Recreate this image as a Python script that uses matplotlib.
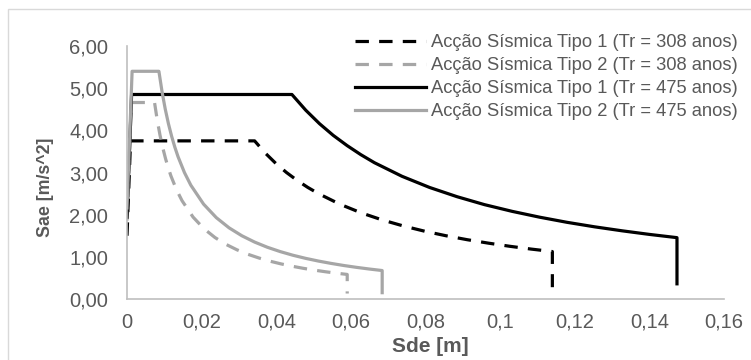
import matplotlib
matplotlib.use("Agg")
import matplotlib.pyplot as plt
from matplotlib.patches import Rectangle

plt.rcParams['font.family'] = ['Liberation Sans', 'DejaVu Sans']

# ---- data (Sde [m], Sae [m/s^2]) ----
sd_t1_308 = [0, 0.00095, 0.0342, 0.03704, 0.0399, 0.04274, 0.0456, 0.04844, 0.0513,
             0.0570, 0.0627, 0.0684, 0.0741, 0.0798, 0.0855, 0.0912, 0.0969, 0.1026,
             0.1083, 0.1140, 0.1140]
sa_t1_308 = [1.50, 3.75, 3.75, 3.462, 3.214, 3.0, 2.8125, 2.647, 2.50,
             2.25, 2.045, 1.875, 1.731, 1.607, 1.50, 1.406, 1.324, 1.25,
             1.184, 1.125, 0.28]

sd_t2_308 = [0, 0.00118, 0.00738, 0.008115, 0.00885, 0.009591, 0.01033, 0.011066, 0.0118,
             0.01328, 0.01476, 0.01771, 0.02066, 0.02361, 0.02656, 0.02951, 0.03246,
             0.03541, 0.03836, 0.04131, 0.04427, 0.04722, 0.05017, 0.05312, 0.05607,
             0.05902, 0.05902]
sa_t2_308 = [1.86, 4.66, 4.66, 4.236, 3.883, 3.585, 3.329, 3.107, 2.9125,
             2.589, 2.33, 1.942, 1.664, 1.456, 1.294, 1.165, 1.059,
             0.971, 0.896, 0.832, 0.777, 0.728, 0.685, 0.647, 0.613,
             0.5825, 0.13]

sd_t1_475 = [0, 0.00123, 0.0442, 0.04791, 0.0516, 0.05528, 0.0590, 0.06265, 0.0663,
             0.0737, 0.0811, 0.0885, 0.0958, 0.1032, 0.1106, 0.1179, 0.1253, 0.1327,
             0.1400, 0.1474, 0.1474]
sa_t1_475 = [1.94, 4.85, 4.85, 4.477, 4.157, 3.88, 3.6375, 3.424, 3.233,
             2.91, 2.645, 2.425, 2.238, 2.079, 1.94, 1.819, 1.712, 1.617,
             1.532, 1.455, 0.36]

sd_t2_475 = [0, 0.00137, 0.00855, 0.009404, 0.01026, 0.011114, 0.01197, 0.012824, 0.01368,
             0.01539, 0.0171, 0.02052, 0.02394, 0.02736, 0.03078, 0.0342, 0.03762,
             0.04104, 0.04445, 0.04787, 0.05129, 0.05471, 0.05813, 0.06155, 0.06497,
             0.06839, 0.06839]
sa_t2_475 = [2.16, 5.40, 5.40, 4.909, 4.50, 4.154, 3.857, 3.6, 3.375,
             3.0, 2.70, 2.25, 1.929, 1.6875, 1.50, 1.35, 1.227,
             1.125, 1.038, 0.964, 0.90, 0.844, 0.794, 0.75, 0.7105,
             0.675, 0.15]

labels = ["Acção Sísmica Tipo 1 (Tr = 308 anos)",
          "Acção Sísmica Tipo 2 (Tr = 308 anos)",
          "Acção Sísmica Tipo 1 (Tr = 475 anos)",
          "Acção Sísmica Tipo 2 (Tr = 475 anos)"]

x_ticks = [0, 0.02, 0.04, 0.06, 0.08, 0.10, 0.12, 0.14, 0.16]
x_ticklabels = ["0", "0,02", "0,04", "0,06", "0,08", "0,1", "0,12", "0,14", "0,16"]
y_ticks = [0, 1, 2, 3, 4, 5, 6]
y_ticklabels = ["0,00", "1,00", "2,00", "3,00", "4,00", "5,00", "6,00"]

# ---- figure ----
W, H = 751, 360
fig = plt.figure(figsize=(W / 100, H / 100), dpi=100)
ax = fig.add_axes([127 / W, 1 - 299 / H, (724 - 127) / W, (299 - 46) / H])

black = "#000000"
gray = "#a6a6a6"
lw = 2.3
dash = (4.2, 3.2)

ax.plot(sd_t1_308, sa_t1_308, color=black, lw=lw, dashes=dash, label=labels[0])
ax.plot(sd_t2_308, sa_t2_308, color=gray, lw=lw, dashes=dash, label=labels[1])
ax.plot(sd_t1_475, sa_t1_475, color=black, lw=lw, label=labels[2])
ax.plot(sd_t2_475, sa_t2_475, color=gray, lw=lw, label=labels[3])

ax.set_xlim(0, 0.16)
ax.set_ylim(0, 6)
ax.set_xticks(x_ticks)
ax.set_xticklabels(x_ticklabels)
ax.set_yticks(y_ticks)
ax.set_yticklabels(y_ticklabels)

tick_color = "#595959"
ax.tick_params(axis='x', length=0, pad=10, labelsize=14.5, labelcolor=tick_color)
ax.tick_params(axis='y', length=0, pad=13.5, labelsize=14.5, labelcolor=tick_color)

for s in ["top", "right"]:
    ax.spines[s].set_visible(False)
for s in ["left", "bottom"]:
    ax.spines[s].set_color("#bfbfbf")
    ax.spines[s].set_linewidth(1.2)

fig.text(45 / W, 1 - 187 / H, "Sae [m/s^2]", rotation=90, ha='center', va='center',
         fontsize=12.8, fontweight='bold', color=tick_color)
fig.text(430 / W, 1 - 347 / H, "Sde [m]", ha='center', va='center',
         fontsize=15, fontweight='bold', color=tick_color)

leg = fig.legend(loc='upper left', bbox_to_anchor=(355 / W, 1 - 34 / H),
                 frameon=False, fontsize=13.2, handlelength=3.85, handletextpad=0.3,
                 labelspacing=0.33, borderpad=0, borderaxespad=0)
for t in leg.get_texts():
    t.set_color(tick_color)

# chart-area border
fig.patches.append(Rectangle((8 / W, -0.1), 1.2, 1 - 9 / H + 0.1, transform=fig.transFigure,
                             fill=False, edgecolor="#d9d9d9", lw=1.0))

fig.savefig("out.png", dpi=100)
